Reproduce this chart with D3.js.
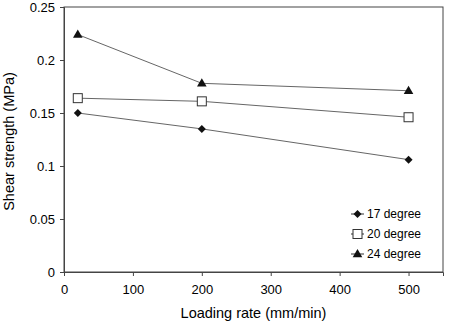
<!doctype html>
<html>
<head>
<meta charset="utf-8">
<script src="https://d3js.org/d3.v7.min.js"></script>
<style>
  body { margin: 0; background: #fff; }
  text { font-family: "Liberation Sans", Arial, sans-serif; fill: #000; }
</style>
</head>
<body>
<div id="chart"></div>
<script>
// data
var rates = [20, 200, 500];
var deg17 = [0.150, 0.135, 0.106];
var deg20 = [0.164, 0.161, 0.146];
var deg24 = [0.224, 0.178, 0.171];
var seriesNames = ["17 degree", "20 degree", "24 degree"];
var xTicks = [0, 100, 200, 300, 400, 500];
var yTicks = [0, 0.05, 0.1, 0.15, 0.2, 0.25];

var W = 450, H = 326;
var margin = {top: 7, right: 7, bottom: 54, left: 64};
var width = W - margin.left - margin.right,
    height = H - margin.top - margin.bottom;

var svg = d3.select("#chart").append("svg")
    .attr("width", W).attr("height", H)
  .append("g")
    .attr("transform", "translate(" + margin.left + "," + margin.top + ")");

var x = d3.scaleLinear().domain([0, 550]).range([0, width]);
var y = d3.scaleLinear().domain([0, 0.25]).range([height, 0]);

// frame
svg.append("rect")
    .attr("width", width).attr("height", height)
    .attr("fill", "none").attr("stroke", "#444").attr("stroke-width", 1);

// axes
var xAxis = svg.append("g")
    .attr("transform", "translate(0," + height + ")")
    .call(d3.axisBottom(x).tickValues(xTicks).tickSize(4).tickPadding(9).tickFormat(d3.format("d")));
var yAxis = svg.append("g")
    .call(d3.axisLeft(y).tickValues(yTicks).tickSize(4).tickPadding(5).tickFormat(function(d) { return d === 0 ? "0" : String(+d.toFixed(2)); }));
[xAxis, yAxis].forEach(function(a) {
  a.selectAll("path").attr("stroke", "#444");
  a.selectAll("line").attr("stroke", "#444");
  a.selectAll("text").style("font-size", "13px").attr("fill", "#000");
});

// axis titles
svg.append("text")
    .attr("x", width / 2).attr("y", height + 46)
    .attr("text-anchor", "middle").style("font-size", "14.5px")
    .text("Loading rate (mm/min)");
svg.append("text")
    .attr("transform", "translate(" + (-50) + "," + (height / 2 + 2) + ") rotate(-90)")
    .attr("text-anchor", "middle").style("font-size", "14.5px")
    .text("Shear strength (MPa)");

var series = [deg17, deg20, deg24];
var line = d3.line()
    .x(function(d, i) { return x(rates[i]); })
    .y(function(d) { return y(d); });

function marker(g, k, cx, cy) {
  if (k === 0) {
    g.append("path").attr("d", "M0,-4L4,0L0,4L-4,0Z")
      .attr("transform", "translate(" + cx + "," + cy + ")").attr("fill", "#111");
  } else if (k === 1) {
    g.append("rect").attr("x", cx - 4.5).attr("y", cy - 4.5)
      .attr("width", 9).attr("height", 9)
      .attr("fill", "#fff").attr("stroke", "#333").attr("stroke-width", 1);
  } else {
    g.append("path").attr("d", d3.symbol(d3.symbolTriangle, 40)())
      .attr("transform", "translate(" + cx + "," + (cy + 0.5) + ")").attr("fill", "#111");
  }
}

series.forEach(function(s, k) {
  svg.append("path").datum(s)
      .attr("d", line).attr("fill", "none")
      .attr("stroke", "#666").attr("stroke-width", 1);
  var g = svg.append("g");
  s.forEach(function(v, i) { marker(g, k, x(rates[i]), y(v)); });
});

// legend
var leg = svg.append("g").attr("transform", "translate(" + (351 - margin.left) + "," + (214 - margin.top) + ")");
seriesNames.forEach(function(name, k) {
  var g = leg.append("g").attr("transform", "translate(0," + (k * 20) + ")");
  g.append("line").attr("x1", 0).attr("x2", 13).attr("y1", 0).attr("y2", 0)
    .attr("stroke", "#333").attr("stroke-width", 1);
  marker(g, k, 6.5, 0);
  g.append("text").attr("x", 16).attr("y", 4).style("font-size", "12px").text(name);
});
</script>
</body>
</html>
